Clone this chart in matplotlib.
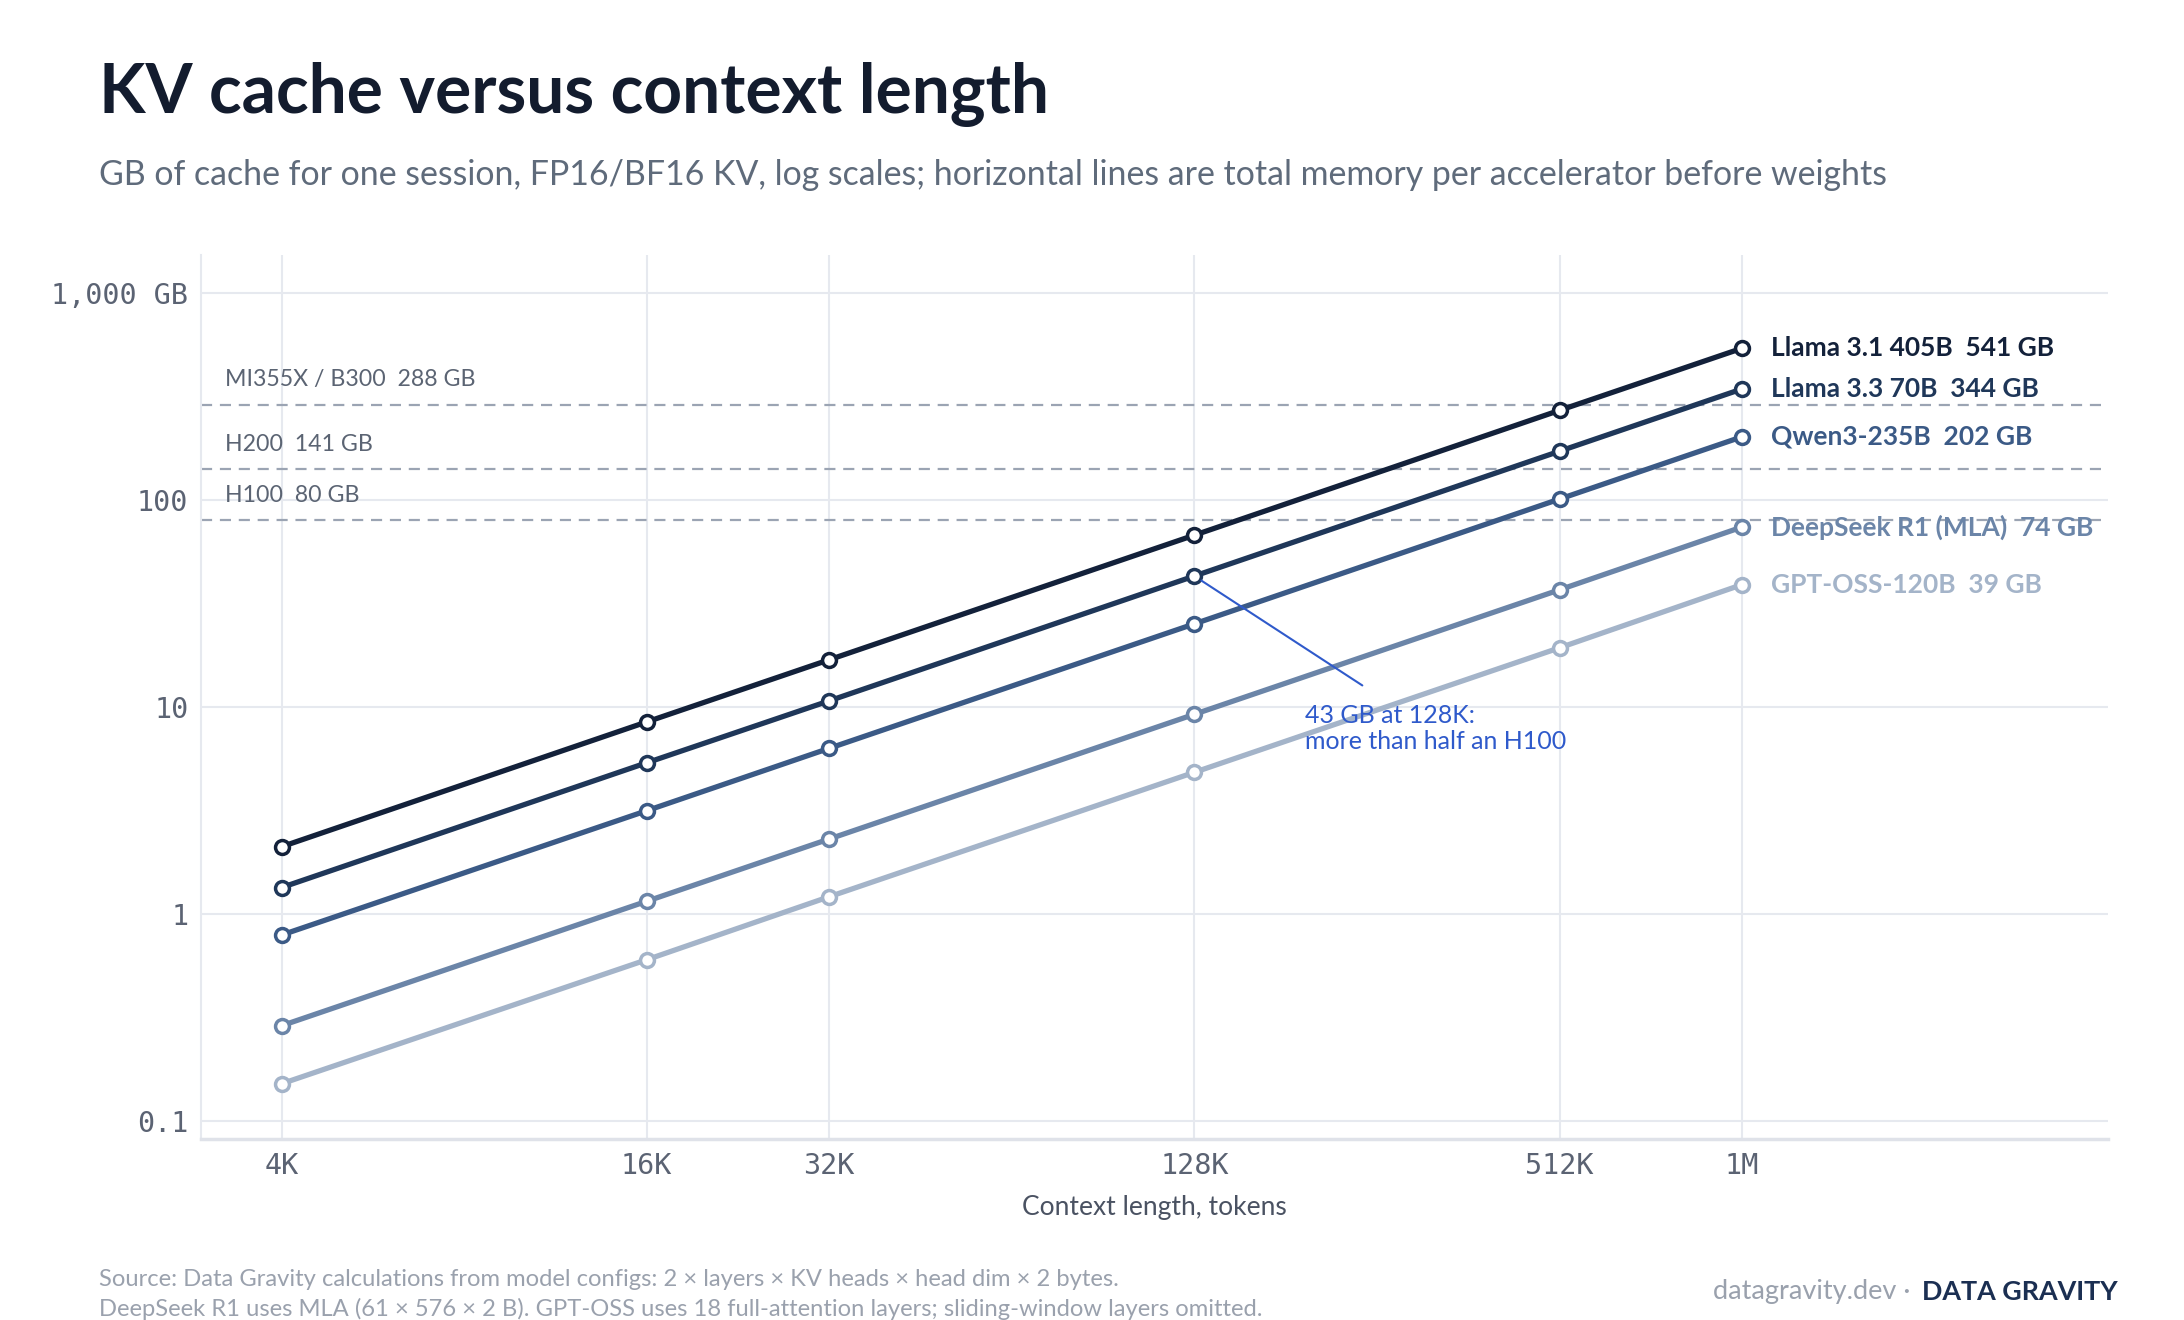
import numpy as np
import matplotlib
matplotlib.use("Agg")
import matplotlib.pyplot as plt
from matplotlib.ticker import FixedLocator, NullLocator

plt.rcParams['font.family'] = ['Lato', 'DejaVu Sans']

# context lengths (tokens) and tick labels
ctx = [4096, 16384, 32768, 131072, 524288, 1048576]
ctx_labels = ["4K", "16K", "32K", "128K", "512K", "1M"]

# KV cache, GB per session
models = ["Llama 3.1 405B", "Llama 3.3 70B", "Qwen3-235B", "DeepSeek R1 (MLA)", "GPT-OSS-120B"]
llama405 = [2.11, 8.46, 16.9, 67.6, 271, 541]
llama70 = [1.34, 5.37, 10.7, 42.9, 172, 344]
qwen235 = [0.79, 3.15, 6.31, 25.2, 101, 202]
deepseek = [0.288, 1.15, 2.30, 9.21, 36.8, 74]
gptoss = [0.151, 0.60, 1.21, 4.83, 19.3, 39]
end_text = ["541 GB", "344 GB", "202 GB", "74 GB", "39 GB"]

# accelerator memory lines
hw_names = ["MI355X / B300", "H200", "H100"]
hw_mem = [288, 141, 80]

y_ticks = [0.1, 1, 10, 100, 1000]
y_labels = ["0.1", "1", "10", "100", "1,000 GB"]

colors = ["#13213a", "#1f3759", "#3b5a86", "#6b85a8", "#a4b4c9"]
grid_c = "#e6e9ef"
tick_c = "#5b6373"
mono = "DejaVu Sans Mono"

fig = plt.figure(figsize=(21.84, 13.2), dpi=100)
ax = fig.add_axes([0.092, 0.137, 0.873, 0.670])
ax.set_xscale("log", base=2)
ax.set_yscale("log")
ax.set_xlim(3016, 4.2e6)
ax.set_ylim(0.0815, 1531)

ax.xaxis.set_major_locator(FixedLocator(ctx))
ax.xaxis.set_minor_locator(NullLocator())
ax.set_xticklabels(ctx_labels)
ax.yaxis.set_major_locator(FixedLocator(y_ticks))
ax.yaxis.set_minor_locator(NullLocator())
ax.set_yticklabels(y_labels)
ax.tick_params(length=0, pad=9, labelsize=20.4, labelcolor=tick_c)
for lab in ax.get_xticklabels() + ax.get_yticklabels():
    lab.set_family(mono)
ax.grid(True, color=grid_c, lw=1.5)
ax.set_axisbelow(True)
for s in ["top", "right"]:
    ax.spines[s].set_visible(False)
ax.spines["left"].set_color(grid_c)
ax.spines["left"].set_linewidth(1.5)
ax.spines["bottom"].set_color("#dfe2e9")
ax.spines["bottom"].set_linewidth(2.5)
ax.set_xlabel("Context length, tokens", fontsize=19, color="#4a5262", labelpad=11)

# memory reference lines
for name, m in zip(hw_names, hw_mem):
    ax.axhline(m, color="#9ba4b3", lw=1.6, dashes=(5, 3.5), zorder=2)
    ax.annotate(f"{name}  {m} GB", xy=(0.0126, m), xycoords=("axes fraction", "data"),
                xytext=(0, 18), textcoords="offset points", va="center", ha="left",
                fontsize=16.7, color="#5b6473")

series = [llama405, llama70, qwen235, deepseek, gptoss]
for i, (name, vals, txt) in enumerate(zip(models, series, end_text)):
    c = colors[i]
    ax.plot(ctx, vals, color=c, lw=3.8, marker="o", ms=10, mfc="white",
            mec=c, mew=2.5, zorder=4 + (5 - i) * 0.1, solid_capstyle="round")
    ax.annotate(f"{name}  {txt}", xy=(ctx[-1], vals[-1]), xytext=(21, 0),
                textcoords="offset points", va="center", ha="left",
                fontsize=19, fontweight="bold", color=c)

# callout
blue = "#2f5acb"
ax.annotate("", xy=(ctx[3], llama70[3]), xytext=(248000, 12.7),
            arrowprops=dict(arrowstyle="-", color=blue, lw=1.5, shrinkA=0, shrinkB=6),
            zorder=6)
ax.text(199500, 10.3, "43 GB at 128K:\nmore than half an H100", color=blue,
        fontsize=18, va="top", ha="left", linespacing=1.15, zorder=6)

# titles
fig.text(0.0453, 1 - 113 / 1320, "KV cache versus context length", fontsize=48.8,
         fontweight="bold", color="#131c2e", va="baseline", ha="left")
fig.text(0.0453, 1 - 185 / 1320,
         "GB of cache for one session, FP16/BF16 KV, log scales; horizontal lines are "
         "total memory per accelerator before weights",
         fontsize=24.4, color="#5f6b7b", va="baseline", ha="left")

# footer
foot_c = "#9aa1ad"
fig.text(0.0453, 1 - 1279 / 1320,
         "Source: Data Gravity calculations from model configs: 2 \u00d7 layers \u00d7 KV heads "
         "\u00d7 head dim \u00d7 2 bytes.", fontsize=17.1, color=foot_c, va="center", ha="left")
fig.text(0.0453, 1 - 1309 / 1320,
         "DeepSeek R1 uses MLA (61 \u00d7 576 \u00d7 2 B). GPT-OSS uses 18 full-attention layers; "
         "sliding-window layers omitted.", fontsize=17.1, color=foot_c, va="center", ha="left")
brand = fig.text(2118 / 2184, 1 - 1292 / 1320, "DATA GRAVITY", fontsize=19.4,
                 fontweight="bold", color="#1b2f52", va="center", ha="right")
fig.canvas.draw()
bb = brand.get_window_extent()
fig.text((bb.x0 - 12) / 2184, 1 - 1292 / 1320, "datagravity.dev \u00b7", fontsize=19.5,
         color=foot_c, va="center", ha="right")

fig.savefig("out.png", dpi=100, facecolor="white")
